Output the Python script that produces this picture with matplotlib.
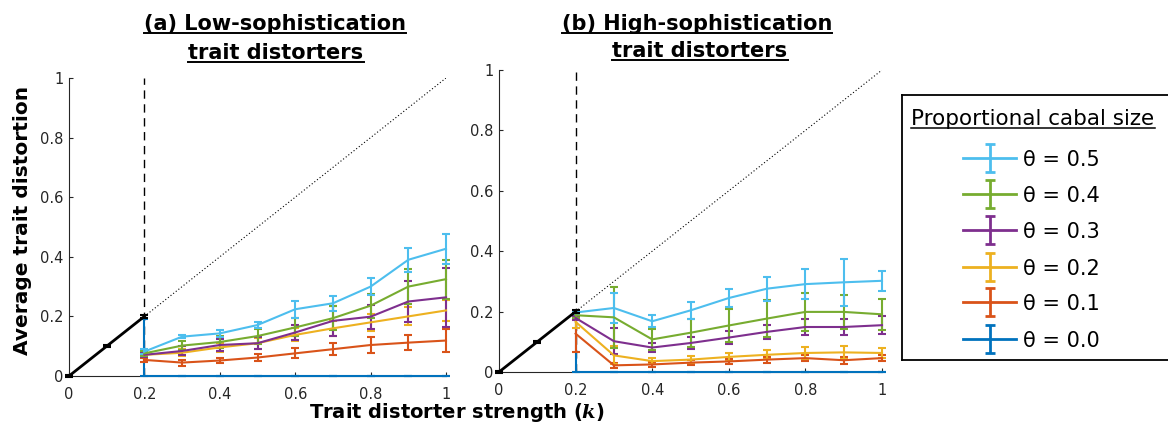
import matplotlib
matplotlib.use("Agg")
import matplotlib.pyplot as plt
from matplotlib.lines import Line2D
import numpy as np

plt.rcParams['font.family'] = ['DejaVu Sans']
plt.rcParams['mathtext.fontset'] = 'custom'
plt.rcParams['mathtext.it'] = 'DejaVu Serif:italic:bold'

# ---- data -------------------------------------------------------------
k = [0.2, 0.3, 0.4, 0.5, 0.6, 0.7, 0.8, 0.9, 1.0]
thetas = ["0.5", "0.4", "0.3", "0.2", "0.1", "0.0"]
colors = ["#4DBEEE", "#77AC30", "#7E2F8E", "#EDB120", "#D95319", "#0072BD"]

base_k = [0.0, 0.1, 0.2]
base_y = [0.0, 0.1, 0.2]
base_err = [0.004, 0.004, 0.004]

# (a) low-sophistication trait distorters
low_mean = {
    "0.5": [0.082, 0.132, 0.143, 0.171, 0.224, 0.244, 0.300, 0.390, 0.427],
    "0.4": [0.076, 0.102, 0.114, 0.134, 0.163, 0.194, 0.236, 0.300, 0.325],
    "0.3": [0.071, 0.084, 0.104, 0.110, 0.146, 0.185, 0.199, 0.250, 0.264],
    "0.2": [0.071, 0.078, 0.096, 0.110, 0.138, 0.160, 0.180, 0.200, 0.220],
    "0.1": [0.054, 0.045, 0.052, 0.062, 0.076, 0.090, 0.104, 0.112, 0.119],
    "0.0": [0.0, 0.0, 0.0, 0.0, 0.0, 0.0, 0.0, 0.0, 0.0],
}
low_err = {
    "0.5": [0.008, 0.006, 0.011, 0.011, 0.028, 0.025, 0.028, 0.040, 0.050],
    "0.4": [0.008, 0.015, 0.020, 0.025, 0.030, 0.040, 0.040, 0.060, 0.065],
    "0.3": [0.008, 0.015, 0.020, 0.020, 0.025, 0.050, 0.040, 0.070, 0.100],
    "0.2": [0.008, 0.012, 0.015, 0.018, 0.022, 0.025, 0.028, 0.030, 0.035],
    "0.1": [0.006, 0.010, 0.010, 0.012, 0.017, 0.020, 0.027, 0.025, 0.040],
    "0.0": [0.19, 0.0, 0.0, 0.0, 0.0, 0.0, 0.0, 0.0, 0.0],
}

# (b) high-sophistication trait distorters
high_mean = {
    "0.5": [0.197, 0.212, 0.168, 0.204, 0.245, 0.276, 0.291, 0.297, 0.302],
    "0.4": [0.188, 0.181, 0.108, 0.130, 0.154, 0.177, 0.199, 0.199, 0.191],
    "0.3": [0.179, 0.102, 0.081, 0.096, 0.114, 0.133, 0.149, 0.149, 0.155],
    "0.2": [0.166, 0.055, 0.036, 0.041, 0.050, 0.057, 0.063, 0.065, 0.063],
    "0.1": [0.127, 0.022, 0.025, 0.031, 0.035, 0.041, 0.046, 0.039, 0.046],
    "0.0": [0.0, 0.0, 0.0, 0.0, 0.0, 0.0, 0.0, 0.0, 0.0],
}
high_err = {
    "0.5": [0.005, 0.050, 0.020, 0.027, 0.031, 0.040, 0.050, 0.077, 0.033],
    "0.4": [0.008, 0.100, 0.035, 0.047, 0.054, 0.060, 0.064, 0.055, 0.052],
    "0.3": [0.008, 0.043, 0.015, 0.020, 0.022, 0.024, 0.028, 0.027, 0.030],
    "0.2": [0.020, 0.030, 0.010, 0.012, 0.013, 0.015, 0.020, 0.022, 0.017],
    "0.1": [0.060, 0.008, 0.008, 0.008, 0.009, 0.010, 0.010, 0.012, 0.010],
    "0.0": [0.20, 0.0, 0.0, 0.0, 0.0, 0.0, 0.0, 0.0, 0.0],
}

k_threshold = 0.2
xticks = [0, 0.2, 0.4, 0.6, 0.8, 1.0]
xticklabels = ["0", "0.2", "0.4", "0.6", "0.8", "1"]
yticks = [0, 0.2, 0.4, 0.6, 0.8, 1.0]
yticklabels = ["0", "0.2", "0.4", "0.6", "0.8", "1"]

# ---- figure -----------------------------------------------------------
W, H = 1168, 430
fig = plt.figure(figsize=(W / 100, H / 100), dpi=100)

def px_axes(x0, y0, x1, y1):
    return fig.add_axes([x0 / W, 1 - y1 / H, (x1 - x0) / W, (y1 - y0) / H])

ax_a = px_axes(69, 78, 446, 376)
ax_b = px_axes(499, 70, 882, 372)

axis_col = "#262626"

def draw_panel(ax, means, errs):
    ax.set_xlim(0, 1.0)
    ax.set_ylim(0, 1.0)
    for s in ["top", "right"]:
        ax.spines[s].set_visible(False)
    for s in ["left", "bottom"]:
        ax.spines[s].set_color(axis_col)
        ax.spines[s].set_linewidth(0.8)
    ax.set_xticks(xticks)
    ax.set_xticklabels(xticklabels)
    ax.set_yticks(yticks)
    ax.set_yticklabels(yticklabels)
    ax.tick_params(direction="in", length=3, width=0.8, color=axis_col,
                   labelcolor=axis_col, labelsize=10.5)
    ax.tick_params(axis="x", pad=8)
    ax.tick_params(axis="y", pad=4)

    # threshold and reference lines
    ax.plot([k_threshold, k_threshold], [0, 1], color="black", lw=1.0,
            ls=(0, (6, 4)), zorder=2)
    ax.plot([k_threshold, 1.0], [k_threshold, 1.0], color="black", lw=0.8,
            ls=(0, (1, 2)), zorder=2)

    # series, from theta = 0.0 upward; error bars stop at zero
    for th, col in reversed(list(zip(thetas, colors))):
        m = np.array(means[th])
        e = np.array(errs[th])
        lower = np.minimum(e, m)
        ax.errorbar(k, m, yerr=[lower, e], color=col, lw=1.5,
                    elinewidth=1.5, capsize=3, capthick=1.5, zorder=3,
                    clip_on=False)

    ax.errorbar(base_k, base_y, yerr=base_err, color="black", lw=2.0,
                elinewidth=1.5, capsize=3, capthick=1.5, zorder=4,
                clip_on=False)

draw_panel(ax_a, low_mean, low_err)
draw_panel(ax_b, high_mean, high_err)

# ---- legend panel -----------------------------------------------------
lg = px_axes(902, 95, 1168, 360)
lg.set_xlim(0, 266)
lg.set_ylim(265, 0)
lg.set_xticks([])
lg.set_yticks([])
for s in ["top", "left", "bottom"]:
    lg.spines[s].set_linewidth(1.3)
    lg.spines[s].set_color("black")
lg.spines["right"].set_visible(False)
lg.patch.set_facecolor("white")

title_txt = lg.text(131, 30, "Proportional cabal size", ha="center",
                    va="baseline", fontsize=15.5, color="black")
entry_y = [63, 99, 135, 172, 207, 244]
for th, col, yy in zip(thetas, colors, entry_y):
    lg.plot([61, 114], [yy, yy], color=col, lw=2.0)
    lg.errorbar([87.5], [yy], yerr=[14], color=col, elinewidth=2.0,
                capsize=3.5, capthick=2.0, fmt="none")
    lg.text(121, yy, "\u03b8 = " + th, ha="left", va="center_baseline",
            fontsize=15, color="black")

# ---- titles and axis labels ------------------------------------------
title_lines = [
    ("(a) Low-sophistication", 275, 30),
    ("trait distorters", 276, 59),
    ("(b) High-sophistication", 697, 30),
    ("trait distorters", 700, 57),
]
title_texts = []
for txt, cx, by in title_lines:
    t = fig.text(cx / W, 1 - by / H, txt, ha="center", va="baseline",
                 fontsize=15, fontweight="bold", color="black")
    title_texts.append(t)

fig.text(23 / W, 1 - 220 / H, "Average trait distortion", rotation=90,
         ha="center", va="center", fontsize=14.5, fontweight="bold")
fig.text(457 / W, 1 - 412 / H, r"Trait distorter strength ($k$)",
         ha="center", va="center", fontsize=14, fontweight="bold")

# underline text objects
fig.canvas.draw()
renderer = fig.canvas.get_renderer()

def underline(t, offset_px=3, lw=1.4):
    bb = t.get_window_extent(renderer=renderer)
    x, y = t.get_transform().transform(t.get_position())
    yy = y - offset_px
    fig.add_artist(Line2D([bb.x0 / W, bb.x1 / W], [yy / H, yy / H],
                          transform=fig.transFigure, color="black", lw=lw))

for t in title_texts:
    underline(t)

bb = title_txt.get_window_extent(renderer=renderer)
_, yb = lg.transData.transform((0, 30))
fig.add_artist(Line2D([bb.x0 / W, bb.x1 / W], [(yb - 3) / H, (yb - 3) / H],
                      transform=fig.transFigure, color="black", lw=1.1))

fig.savefig("out.png", dpi=100)
